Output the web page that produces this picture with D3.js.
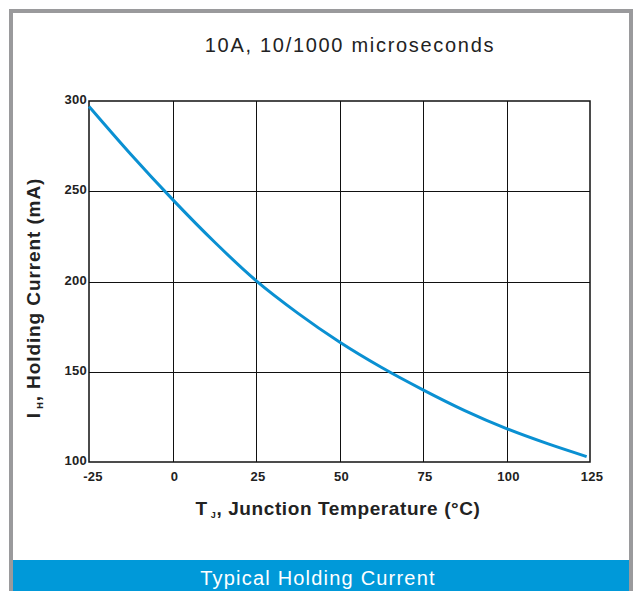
<!DOCTYPE html>
<html>
<head>
<meta charset="utf-8">
<script src="https://cdn.jsdelivr.net/npm/d3@7"></script>
<style>
  body { margin: 0; background: #fff; }
  svg { display: block; }
</style>
</head>
<body>
<script>
const width = 635;
const height = 591;
const margin = { top: 101, right: 45, bottom: 129, left: 89 };

// holding current vs junction temperature
const temps = [-25, -12.5, 0, 12.5, 25, 37.5, 50, 62.5, 75, 87.5, 100, 112.5, 124];
const current = [297, 270.5, 245.5, 222, 200.5, 182.5, 166.5, 152.5, 140, 128.5, 118.5, 110, 103];

const xTicks = [-25, 0, 25, 50, 75, 100, 125];
const yTicks = [100, 150, 200, 250, 300];

const font = "Liberation Sans, Arial, sans-serif";

const svg = d3.select("body").append("svg")
  .attr("width", width)
  .attr("height", height);

// outer gray frame
svg.append("path")
  .attr("d", `M11,${height} V11 H631 V${height}`)
  .attr("fill", "none")
  .attr("stroke", "#9a9a9c")
  .attr("stroke-width", 4);

// bottom banner
svg.append("rect")
  .attr("x", 13).attr("y", 560)
  .attr("width", 616).attr("height", height - 560)
  .attr("fill", "#0099d9");

svg.append("text")
  .attr("x", 318).attr("y", 585)
  .attr("text-anchor", "middle")
  .attr("fill", "#fff")
  .attr("font-family", font)
  .attr("font-size", "20px")
  .attr("letter-spacing", "1.2px")
  .text("Typical Holding Current");

// title
svg.append("text")
  .attr("x", 350).attr("y", 52)
  .attr("text-anchor", "middle")
  .attr("fill", "#222")
  .attr("font-family", font)
  .attr("font-size", "20px")
  .attr("letter-spacing", "1.7px")
  .text("10A, 10/1000 microseconds");

const x = d3.scaleLinear()
  .domain([-25, 125])
  .range([margin.left, width - margin.right]);

const y = d3.scaleLinear()
  .domain([100, 300])
  .range([height - margin.bottom, margin.top]);

// grid
const grid = svg.append("g").attr("stroke", "#111").attr("stroke-width", 1);
grid.selectAll("line.v")
  .data(xTicks.slice(1, -1))
  .enter().append("line")
  .attr("class", "v")
  .attr("x1", d => Math.round(x(d)) + 0.5).attr("x2", d => Math.round(x(d)) + 0.5)
  .attr("y1", y(300)).attr("y2", y(100));
grid.selectAll("line.h")
  .data(yTicks.slice(1, -1))
  .enter().append("line")
  .attr("class", "h")
  .attr("y1", d => Math.round(y(d)) + 0.5).attr("y2", d => Math.round(y(d)) + 0.5)
  .attr("x1", x(-25)).attr("x2", x(125));

svg.append("rect")
  .attr("x", x(-25)).attr("y", y(300))
  .attr("width", x(125) - x(-25))
  .attr("height", y(100) - y(300))
  .attr("fill", "none")
  .attr("stroke", "#111")
  .attr("stroke-width", 1.5);

// tick labels
svg.append("g").selectAll("text")
  .data(xTicks)
  .enter().append("text")
  .attr("x", d => x(d) + (d < 0 ? 4 : 2))
  .attr("y", 481)
  .attr("text-anchor", "middle")
  .attr("font-family", font)
  .attr("font-size", "13px")
  .attr("letter-spacing", "0.3px")
  .attr("font-weight", "bold")
  .attr("fill", "#222")
  .text(d => d);

svg.append("g").selectAll("text")
  .data(yTicks)
  .enter().append("text")
  .attr("x", margin.left - 2)
  .attr("y", d => y(d) + 3)
  .attr("text-anchor", "end")
  .attr("font-family", font)
  .attr("font-size", "13px")
  .attr("letter-spacing", "0.3px")
  .attr("font-weight", "bold")
  .attr("fill", "#222")
  .text(d => d);

// curve
const line = d3.line()
  .x((d, i) => x(temps[i]))
  .y(d => y(d))
  .curve(d3.curveMonotoneX);

svg.append("path")
  .datum(current)
  .attr("d", line)
  .attr("fill", "none")
  .attr("stroke", "#0a90d2")
  .attr("stroke-width", 3);

// axis titles
const xLabel = svg.append("text")
  .attr("x", 338).attr("y", 515)
  .attr("text-anchor", "middle")
  .attr("font-family", font)
  .attr("font-size", "19px")
  .attr("letter-spacing", "0.6px")
  .attr("font-weight", "bold")
  .attr("fill", "#222");
xLabel.append("tspan").text("T");
xLabel.append("tspan").attr("font-size", "9px").attr("dy", 3).text(" J");
xLabel.append("tspan").attr("dy", -3).text(", Junction Temperature (°C)");

const yLabel = svg.append("text")
  .attr("transform", "translate(40, 298) rotate(-90)")
  .attr("text-anchor", "middle")
  .attr("font-family", font)
  .attr("font-size", "19px")
  .attr("letter-spacing", "0.9px")
  .attr("font-weight", "bold")
  .attr("fill", "#222");
yLabel.append("tspan").text("I");
yLabel.append("tspan").attr("font-size", "9px").attr("dy", 3).text(" H");
yLabel.append("tspan").attr("dy", -3).text(", Holding Current (mA)");
</script>
</body>
</html>
